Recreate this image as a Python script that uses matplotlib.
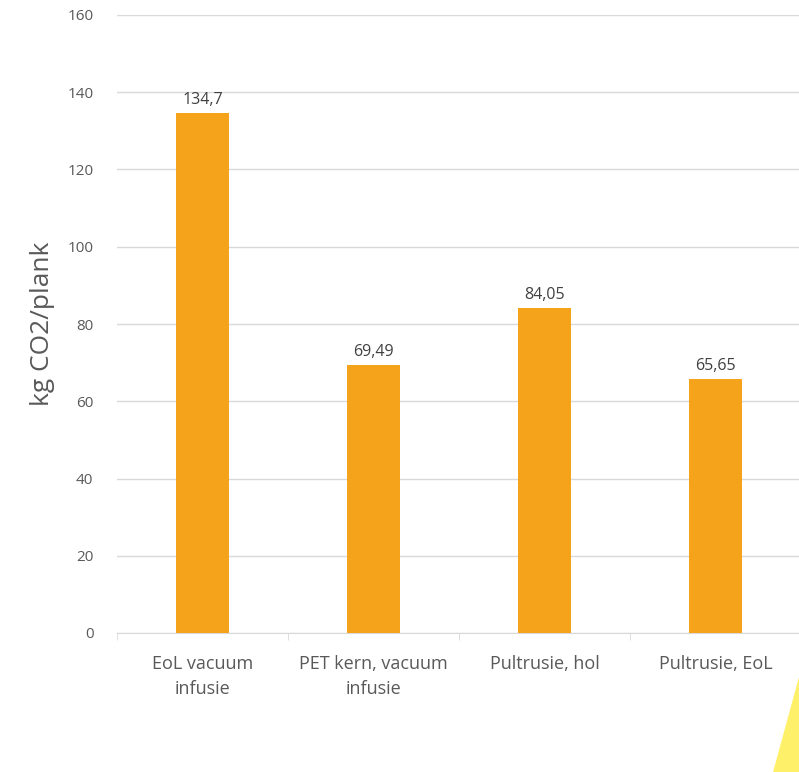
import matplotlib
matplotlib.use("Agg")
import matplotlib.pyplot as plt
from matplotlib.patches import Polygon

categories = ["EoL vacuum\ninfusie", "PET kern, vacuum\ninfusie", "Pultrusie, hol", "Pultrusie, EoL"]
values = [134.7, 69.49, 84.05, 65.65]
value_labels = ["134,7", "69,49", "84,05", "65,65"]
yticks = [0, 20, 40, 60, 80, 100, 120, 140, 160]

plt.rcParams['font.family'] = ['Open Sans', 'DejaVu Sans']
grey = "#595959"

fig = plt.figure(figsize=(7.99, 7.72), dpi=100)
ax = fig.add_axes([117/799, 139/772, 684/799, 618/772])

x = range(len(categories))
ax.bar(x, values, width=0.31, color="#F5A31A", zorder=3)
for xi, v, lab in zip(x, values, value_labels):
    ax.text(xi, v + 1.3, lab, ha="center", va="bottom", fontsize=11.5, color="#404040")

ax.set_xlim(-0.5, len(categories) - 0.5)
ax.set_ylim(0, 160)
ax.set_yticks(yticks)
ax.set_yticklabels([str(t) for t in yticks], fontsize=11, color=grey)
ax.yaxis.grid(True, color="#D9D9D9", linewidth=1, zorder=0)
ax.tick_params(axis="y", length=0, pad=17)

ax.set_xticks(list(x))
ax.set_xticklabels(categories, fontsize=13, color=grey, linespacing=1.45)
ax.set_xticks([i - 0.5 for i in range(len(categories) + 1)], minor=True)
ax.tick_params(axis="x", which="major", length=0, pad=16)
ax.tick_params(axis="x", which="minor", length=5, color="#D9D9D9")

for s in ["top", "right", "left"]:
    ax.spines[s].set_visible(False)
ax.spines["bottom"].set_color("#D9D9D9")

ax.set_ylabel("kg CO2/plank", fontsize=19, color=grey, labelpad=9)

tri = Polygon([[773/799, 0], [1.0, 0], [1.0, 95/772]], closed=True,
              transform=fig.transFigure, facecolor="#FFEF5A", edgecolor="none", alpha=0.9)
fig.patches.append(tri)

fig.savefig("out.png", dpi=100)
